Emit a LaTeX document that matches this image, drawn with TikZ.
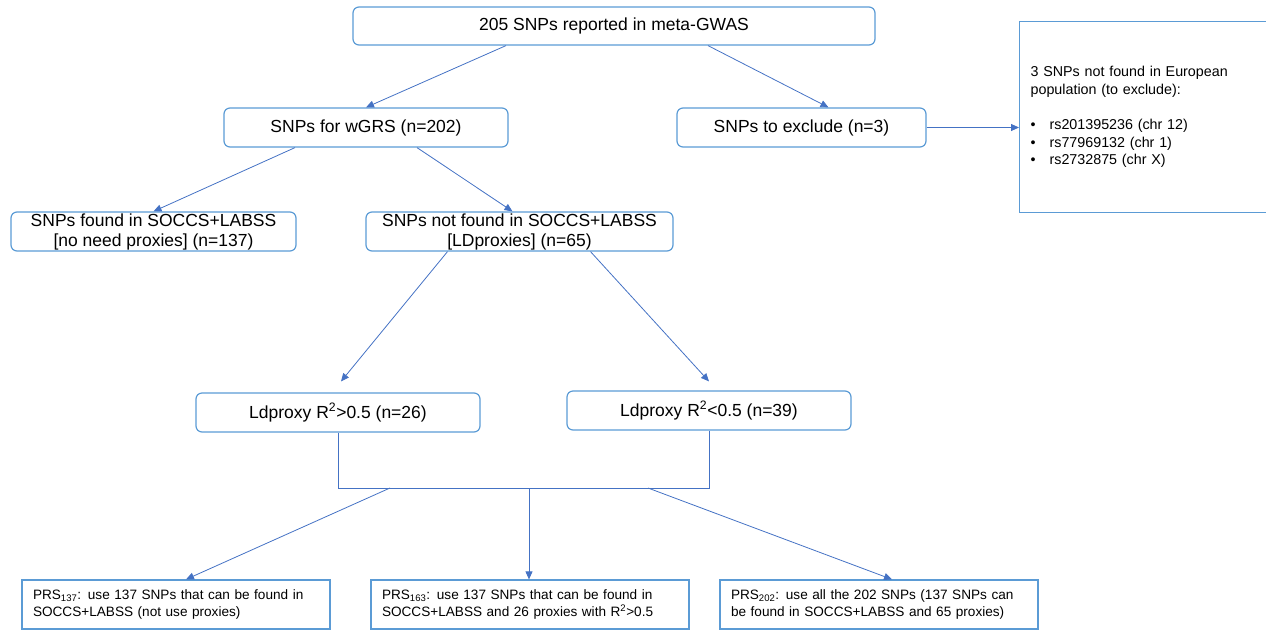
\documentclass[tikz,border=0pt]{standalone}
\usepackage{fontspec}
\setmainfont{Liberation Sans}
\usetikzlibrary{arrows.meta}
\definecolor{boxblue}{RGB}{91,155,213}
\definecolor{lineblue}{RGB}{68,114,196}
\tikzset{
  rbox/.style={draw=boxblue, line width=1.2pt, rounded corners=6pt, inner sep=0pt,
    align=center, font=\fontsize{17.5}{20}\selectfont},
  sbox/.style={draw=boxblue, line width=1.2pt, inner xsep=11pt, inner ysep=0pt,
    align=left, font=\fontsize{13.6}{17}\selectfont},
  conn/.style={draw=lineblue, line width=0.8pt, -{Triangle[length=8pt,width=7pt]}},
  plain/.style={draw=lineblue, line width=0.8pt}
}
\begin{document}
\begin{tikzpicture}[x=1pt, y=-1pt]
    \useasboundingbox (0,0) rectangle (1266,630);

    % --- Level 1: all reported SNPs ---
    \node[rbox, minimum width=522pt, minimum height=38pt] (top) at (614,26) {205 SNPs reported in meta-GWAS};

    % --- Level 2: kept vs excluded ---
    \node[rbox, minimum width=284pt, minimum height=39pt] (wgrs) at (366,127.5) {SNPs for wGRS (n=202)};
    \node[rbox, minimum width=249pt, minimum height=39pt] (excl) at (801.5,127.5) {SNPs to exclude (n=3)};
    \node[sbox, anchor=north west, text width=238pt, minimum height=191pt, font=\fontsize{14.3}{17.5}\selectfont] (note) at (1019,21)
      {3 SNPs not found in European\\population (to exclude):\\[18pt]
       \makebox[19pt][l]{\textbullet}rs201395236 (chr 12)\\
       \makebox[19pt][l]{\textbullet}rs77969132 (chr 1)\\
       \makebox[19pt][l]{\textbullet}rs2732875 (chr X)};
    \draw[conn] ([xshift=-108pt]top.south) -- (wgrs.north);
    \draw[conn] ([xshift=94pt]top.south) -- ([xshift=27pt]excl.north);
    \draw[conn] (excl.east) -- (excl.east -| note.west);

    % --- Level 3: found vs not found ---
    \node[rbox, minimum width=285pt, minimum height=39pt] (found) at (153.5,231.5) {SNPs found in SOCCS+LABSS\\{[no need proxies]} (n=137)};
    \node[rbox, minimum width=307pt, minimum height=39pt] (notfound) at (519.5,231.5) {SNPs not found in SOCCS+LABSS\\{[LDproxies]} (n=65)};
    \draw[conn] ([xshift=-71pt]wgrs.south) -- (found.north);
    \draw[conn] ([xshift=51pt]wgrs.south) -- ([xshift=-7pt]notfound.north);

    % --- Level 4: proxy quality ---
    \node[rbox, minimum width=284pt, minimum height=39pt] (ldhi) at (338,412.5) {Ldproxy R\textsuperscript{2}>0.5 (n=26)};
    \node[rbox, minimum width=284pt, minimum height=39pt] (ldlo) at (709,410.5) {Ldproxy R\textsuperscript{2}<0.5 (n=39)};
    \draw[conn] ([xshift=-72pt]notfound.south) -- ([xshift=3pt, yshift=11pt]ldhi.north);
    \draw[conn] ([xshift=71pt]notfound.south) -- ([yshift=9pt]ldlo.north);

    % --- join line under both proxy boxes ---
    \coordinate (bar) at (529,488);
    \draw[plain] (ldhi.south) |- (bar) -| (ldlo.south);

    % --- Level 5: the three scores ---
    \node[sbox, text width=286pt, minimum height=49pt] (prsA) at (176,604.5) {PRS\textsubscript{137}: use 137 SNPs that can be found in\\SOCCS+LABSS (not use proxies)};
    \node[sbox, text width=296pt, minimum height=49pt] (prsB) at (530,604.5) {PRS\textsubscript{163}: use 137 SNPs that can be found in\\SOCCS+LABSS and 26 proxies with R\textsuperscript{2}>0.5};
    \node[sbox, text width=296pt, minimum height=49pt] (prsC) at (879,604.5) {PRS\textsubscript{202}: use all the 202 SNPs (137 SNPs can\\be found in SOCCS+LABSS and 65 proxies)};
    \draw[conn] ([xshift=-139pt]bar) -- ([xshift=10pt]prsA.north);
    \draw[conn] (bar) -- (bar |- prsB.north);
    \draw[conn] ([xshift=119pt]bar) -- ([xshift=13pt]prsC.north);

\end{tikzpicture}
\end{document}
